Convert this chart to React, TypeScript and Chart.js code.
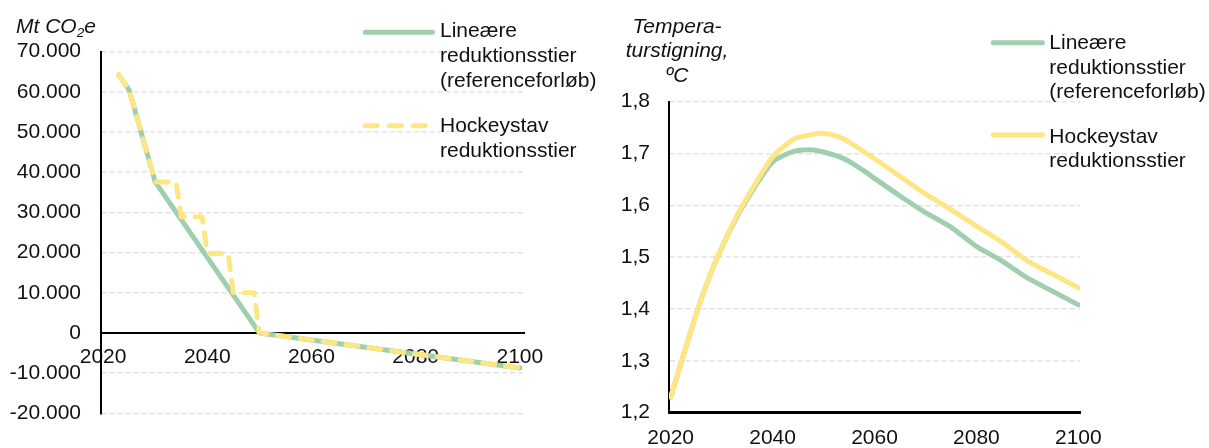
import React, { useEffect, useRef } from "react";
import { Chart, registerables } from "chart.js";

Chart.register(...registerables);

const FONT = "'Liberation Sans', Arial, Helvetica, sans-serif";
const FONT_SIZE = 21;
const TEXT = "#111111";
const GREEN = "#9FD0AE";
const YELLOW = "#FFE685";
const GRID = "#E3E3E3";

Chart.defaults.font.family = FONT;
Chart.defaults.font.size = FONT_SIZE;
Chart.defaults.color = TEXT;

// ---------- Left chart: emissions, Mt CO2e ----------
const emisLinearYears = [2023, 2025, 2030, 2050, 2100];
const emisLinearValues = [64200, 60500, 37600, 0, -8700];

const emisHockeyYears = [2023, 2025, 2030, 2034, 2035, 2039, 2040, 2044, 2045, 2049, 2050, 2100];
const emisHockeyValues = [64200, 60500, 37600, 37600, 28900, 28900, 19800, 19800, 10000, 10000, 0, -8700];

const emisYTicks = [-20000, -10000, 0, 10000, 20000, 30000, 40000, 50000, 60000, 70000];

// ---------- Right chart: temperature rise, ºC ----------
const tempYears = [2020, 2025, 2028, 2030, 2033, 2035, 2038, 2040, 2043, 2045, 2048, 2050, 2053, 2055, 2058, 2060, 2065, 2070, 2075, 2080, 2085, 2090, 2095, 2100];
const tempLinear = [1.23, 1.39, 1.472, 1.518, 1.578, 1.612, 1.658, 1.684, 1.7, 1.706, 1.707, 1.703, 1.694, 1.685, 1.666, 1.652, 1.618, 1.586, 1.558, 1.521, 1.493, 1.46, 1.434, 1.408];
const tempHockey = [1.23, 1.39, 1.472, 1.518, 1.58, 1.615, 1.664, 1.694, 1.72, 1.731, 1.737, 1.739, 1.732, 1.722, 1.703, 1.69, 1.656, 1.622, 1.592, 1.56, 1.529, 1.493, 1.467, 1.441];

const tempYTicks = [1.2, 1.3, 1.4, 1.5, 1.6, 1.7, 1.8];

// ---------- shared ----------
const xTickYears = [2020, 2040, 2060, 2080, 2100];
const labelLinear = ["Lineære", "reduktionsstier", "(referenceforløb)"];
const labelHockey = ["Hockeystav", "reduktionsstier"];
const titleTemp = ["Tempera-", "turstigning,", "ºC"];

const fmtThousands = (v: number) => {
  if (v === 0) return "0";
  const s = v < 0 ? "-" : "";
  return s + Math.abs(v / 1000) + ".000";
};
const fmtDecimal = (v: number) => v.toFixed(1).replace(".", ",");

type LegendItem = {
  ds: number;
  dash?: number[];
  x0: number;
  x1: number;
  y: number;
  tx: number;
  baseline: number;
  lines: string[];
};

function makeLegendPlugin(items: LegendItem[], lineGap: number) {
  return {
    id: "customLegend",
    afterDraw(chart: any) {
      const ctx = chart.ctx as CanvasRenderingContext2D;
      items.forEach((it) => {
        const ds = chart.data.datasets[it.ds];
        ctx.save();
        ctx.strokeStyle = ds.borderColor;
        ctx.lineWidth = ds.borderWidth;
        ctx.lineCap = "round";
        ctx.setLineDash(it.dash || []);
        ctx.beginPath();
        ctx.moveTo(it.x0, it.y);
        ctx.lineTo(it.x1, it.y);
        ctx.stroke();
        ctx.setLineDash([]);
        ctx.fillStyle = TEXT;
        ctx.font = `${FONT_SIZE}px ${FONT}`;
        ctx.textAlign = "left";
        ctx.textBaseline = "alphabetic";
        it.lines.forEach((t, i) => ctx.fillText(t, it.tx, it.baseline + i * lineGap));
        ctx.restore();
      });
    },
  };
}

const emisTitlePlugin = {
  id: "emisTitle",
  afterDraw(chart: any) {
    const ctx = chart.ctx as CanvasRenderingContext2D;
    ctx.save();
    ctx.fillStyle = TEXT;
    ctx.textAlign = "left";
    ctx.textBaseline = "alphabetic";
    let x = 16;
    const base = 33.3;
    ctx.font = `italic ${FONT_SIZE}px ${FONT}`;
    ctx.fillText("Mt CO", x, base);
    x += ctx.measureText("Mt CO").width;
    ctx.font = `italic 13.5px ${FONT}`;
    ctx.fillText("2", x, base + 4);
    x += ctx.measureText("2").width;
    ctx.font = `italic ${FONT_SIZE}px ${FONT}`;
    ctx.fillText("e", x, base);
    ctx.restore();
  },
};

const tempTitlePlugin = {
  id: "tempTitle",
  afterDraw(chart: any) {
    const ctx = chart.ctx as CanvasRenderingContext2D;
    ctx.save();
    ctx.fillStyle = TEXT;
    ctx.textAlign = "center";
    ctx.textBaseline = "alphabetic";
    ctx.font = `italic ${FONT_SIZE}px ${FONT}`;
    titleTemp.forEach((t, i) => ctx.fillText(t, 77, 32.7 + i * 24.5));
    ctx.restore();
  },
};

function emisConfig(): any {
  return {
    type: "line",
    data: {
      datasets: [
        {
          label: labelLinear.join(" "),
          data: emisLinearYears.map((x, i) => ({ x, y: emisLinearValues[i] })),
          borderColor: GREEN,
          borderWidth: 5,
          pointRadius: 0,
          tension: 0,
          borderJoinStyle: "round",
          borderCapStyle: "round",
          order: 2,
        },
        {
          label: labelHockey.join(" "),
          data: emisHockeyYears.map((x, i) => ({ x, y: emisHockeyValues[i] })),
          borderColor: YELLOW,
          borderWidth: 5,
          borderDash: [12, 11],
          pointRadius: 0,
          tension: 0,
          borderJoinStyle: "round",
          borderCapStyle: "round",
          order: 1,
        },
      ],
    },
    options: {
      responsive: false,
      animation: false,
      devicePixelRatio: 1,
      layout: { padding: { left: 0, right: 76, top: 51.7, bottom: 34.7 } },
      plugins: { legend: { display: false }, tooltip: { enabled: false } },
      scales: {
        x: {
          type: "linear",
          min: 2019.6,
          max: 2100.8,
          position: { y: 0 },
          grid: { display: false, drawTicks: false },
          border: { display: true, color: "#000", width: 2 },
          ticks: { padding: 12, color: TEXT, maxRotation: 0, autoSkip: false, callback: (v: number) => String(v) },
          afterBuildTicks: (s: any) => {
            s.ticks = xTickYears.map((v) => ({ value: v }));
          },
          afterFit: (s: any) => {
            s.paddingLeft = 0;
            s.paddingRight = 0;
          },
        },
        y: {
          type: "linear",
          min: -20000,
          max: 70000,
          grid: { color: GRID, lineWidth: 1.5, drawTicks: false },
          border: { display: true, color: "#000", width: 2, dash: [5, 3] },
          ticks: { padding: 20, color: TEXT, callback: (v: number) => fmtThousands(v) },
          afterBuildTicks: (s: any) => {
            s.ticks = emisYTicks.map((v) => ({ value: v }));
          },
          afterFit: (s: any) => {
            s.width = 101;
            s.paddingTop = 0;
            s.paddingBottom = 0;
          },
        },
      },
    },
    plugins: [
      makeLegendPlugin(
        [
          { ds: 0, x0: 365.2, x1: 432.5, y: 32.3, tx: 440, baseline: 37.3, lines: labelLinear },
          { ds: 1, dash: [12, 12], x0: 365.2, x1: 425.2, y: 125.7, tx: 440, baseline: 131.8, lines: labelHockey },
        ],
        25
      ),
      emisTitlePlugin,
    ],
  };
}

function tempConfig(): any {
  return {
    type: "line",
    data: {
      datasets: [
        {
          label: labelLinear.join(" "),
          data: tempYears.map((x, i) => ({ x, y: tempLinear[i] })),
          borderColor: GREEN,
          borderWidth: 5,
          pointRadius: 0,
          tension: 0.2,
          borderJoinStyle: "round",
          borderCapStyle: "round",
          order: 2,
        },
        {
          label: labelHockey.join(" "),
          data: tempYears.map((x, i) => ({ x, y: tempHockey[i] })),
          borderColor: YELLOW,
          borderWidth: 5,
          pointRadius: 0,
          tension: 0.2,
          borderJoinStyle: "round",
          borderCapStyle: "round",
          order: 1,
        },
      ],
    },
    options: {
      responsive: false,
      animation: false,
      devicePixelRatio: 1,
      layout: { padding: { left: 0, right: 129, top: 101.7, bottom: 0 } },
      plugins: { legend: { display: false }, tooltip: { enabled: false } },
      scales: {
        x: {
          type: "linear",
          min: 2019.67,
          max: 2100.33,
          position: "bottom",
          grid: { display: false, drawTicks: false },
          border: { display: true, color: "#000", width: 3 },
          ticks: { padding: 13, color: TEXT, maxRotation: 0, autoSkip: false, callback: (v: number) => String(v) },
          afterBuildTicks: (s: any) => {
            s.ticks = xTickYears.map((v) => ({ value: v }));
          },
          afterFit: (s: any) => {
            s.height = 35.3;
            s.paddingLeft = 0;
            s.paddingRight = 0;
          },
        },
        y: {
          type: "linear",
          min: 1.2,
          max: 1.8,
          grid: { color: GRID, lineWidth: 1.5, drawTicks: false },
          border: { display: true, color: "#000", width: 2, dash: [5, 3] },
          ticks: { padding: 19, color: TEXT, callback: (v: number) => fmtDecimal(v) },
          afterBuildTicks: (s: any) => {
            s.ticks = tempYTicks.map((v) => ({ value: v }));
          },
          afterFit: (s: any) => {
            s.width = 69;
            s.paddingTop = 0;
            s.paddingBottom = 0;
          },
        },
      },
    },
    plugins: [
      makeLegendPlugin(
        [
          { ds: 0, x0: 393.2, x1: 442.5, y: 42.7, tx: 449.3, baseline: 49.3, lines: labelLinear },
          { ds: 1, x0: 393.2, x1: 442.5, y: 135, tx: 449.3, baseline: 142.7, lines: labelHockey },
        ],
        24.5
      ),
      tempTitlePlugin,
    ],
  };
}

function ChartCanvas({ make, width, height, left }: { make: () => any; width: number; height: number; left: number }) {
  const ref = useRef<HTMLCanvasElement>(null);
  useEffect(() => {
    const chart = new Chart(ref.current as HTMLCanvasElement, make());
    return () => chart.destroy();
  }, []);
  return (
    <canvas
      ref={ref}
      width={width}
      height={height}
      style={{ position: "absolute", left, top: 0, width, height, display: "block" }}
    />
  );
}

export default function App() {
  return (
    <div style={{ position: "absolute", left: 0, top: 0, width: 1209, height: 448, background: "#fff", overflow: "hidden" }}>
      <ChartCanvas make={emisConfig} width={600} height={448} left={0} />
      <ChartCanvas make={tempConfig} width={609} height={448} left={600} />
    </div>
  );
}
